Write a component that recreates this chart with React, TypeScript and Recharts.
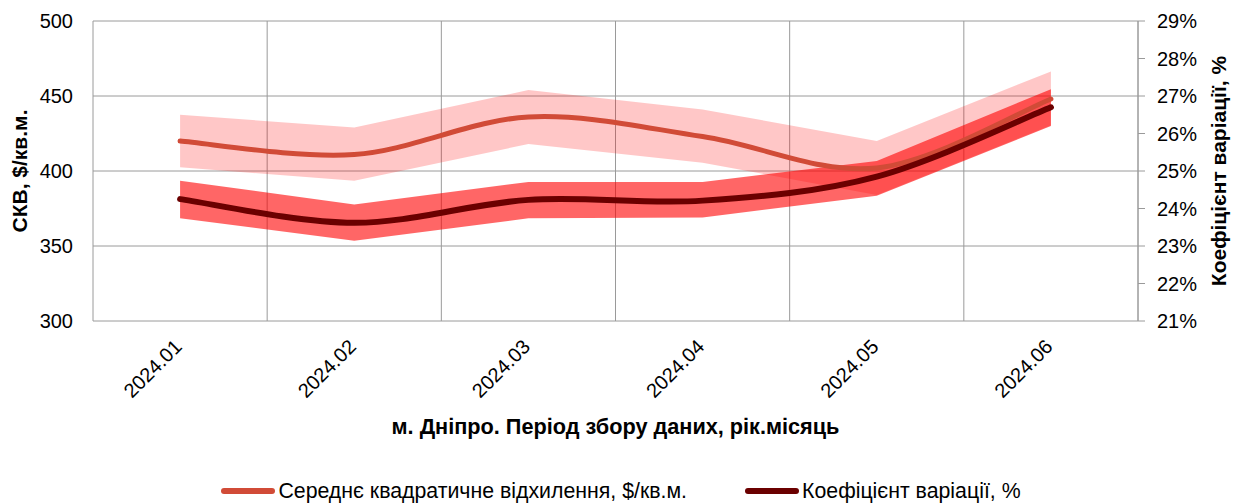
import React from 'react';
import {
  ComposedChart, Line, Area, XAxis, YAxis, CartesianGrid, Legend, Label,
} from 'recharts';

const categories = ['2024.01', '2024.02', '2024.03', '2024.04', '2024.05', '2024.06'];
const skv = [420, 411, 436, 423, 402, 448];
const skvLow = [402.5, 393.5, 418, 405.5, 384, 430.5];
const skvHigh = [437.5, 429, 454, 441, 420, 466.4];
const cv = [24.25, 23.62, 24.23, 24.21, 24.85, 26.7];
const cvLow = [23.74, 23.14, 23.74, 23.76, 24.34, 26.2];
const cvHigh = [24.74, 24.11, 24.71, 24.71, 25.27, 27.18];
const leftTicks = [300, 350, 400, 450, 500];
const rightTicks = [21, 22, 23, 24, 25, 26, 27, 28, 29];

const SKV_NAME = 'Середнє квадратичне відхилення, $/кв.м.';
const CV_NAME = 'Коефіцієнт варіації, %';
const X_TITLE = 'м. Дніпро. Період збору даних, рік.місяць';
const LEFT_TITLE = 'СКВ, $/кв.м.';
const RIGHT_TITLE = 'Коефіцієнт варіації, %';

const FONT = '"Liberation Sans", Arial, sans-serif';
const GRID = '#9a9a9a';
const SKV_COLOR = '#d14b37';
const CV_COLOR = '#6b0000';

const data = categories.map((label, i) => ({
  label,
  skv: skv[i],
  skvBand: [skvLow[i], skvHigh[i]],
  cv: cv[i],
  cvBand: [cvLow[i], cvHigh[i]],
}));

// Excel-like smoothed line (Catmull-Rom through points)
const excelSmooth: any = (context: any) => {
  let pts: number[][] = [];
  return {
    areaStart() {},
    areaEnd() {},
    lineStart() { pts = []; },
    point(x: number, y: number) { pts.push([+x, +y]); },
    lineEnd() {
      const n = pts.length;
      if (!n) return;
      context.moveTo(pts[0][0], pts[0][1]);
      for (let i = 0; i < n - 1; i++) {
        const p0 = pts[i - 1] || pts[i];
        const p1 = pts[i];
        const p2 = pts[i + 1];
        const p3 = pts[i + 2] || pts[i + 1];
        context.bezierCurveTo(
          p1[0] + (p2[0] - p0[0]) / 6, p1[1] + (p2[1] - p0[1]) / 6,
          p2[0] - (p3[0] - p1[0]) / 6, p2[1] - (p3[1] - p1[1]) / 6,
          p2[0], p2[1],
        );
      }
    },
  };
};

// vertical grid lines on the category (band) boundaries
const categoryBoundaries = (args: any) => {
  const { xAxis, offset } = args;
  try {
    const s = xAxis && xAxis.scale;
    if (typeof s === 'function' && typeof s.bandwidth === 'function') {
      const bw = s.bandwidth();
      const xs = categories.map((c) => s(c) as number);
      if (xs.every((v) => typeof v === 'number' && !isNaN(v))) {
        return [...xs, xs[xs.length - 1] + bw];
      }
    }
  } catch (e) {
    // fall through
  }
  const w = offset.width / categories.length;
  return [...categories.map((_, i) => offset.left + i * w), offset.left + offset.width];
};

const XTick = (props: any) => {
  const { x, y, payload } = props;
  return (
    <text
      transform={`translate(${x + 3},${y + 27}) rotate(-45)`}
      textAnchor="end"
      fontFamily={FONT}
      fontSize={20}
      fill="#000"
    >
      {payload.value}
    </text>
  );
};

const LegendContent = () => {
  const items = [
    { name: SKV_NAME, color: SKV_COLOR },
    { name: CV_NAME, color: CV_COLOR },
  ];
  return (
    <div style={{ display: 'flex', justifyContent: 'center', alignItems: 'center', height: 26, fontFamily: FONT, fontSize: 21.3, color: '#000' }}>
      {items.map((it, i) => (
        <div key={i} style={{ display: 'flex', alignItems: 'center', marginLeft: i ? 57 : 0 }}>
          <svg width={56} height={26} style={{ display: 'block' }}>
            <line x1={4} y1={13} x2={52} y2={13} stroke={it.color} strokeWidth={6} strokeLinecap="round" />
          </svg>
          <span style={{ marginLeft: 2, whiteSpace: 'nowrap' }}>{it.name}</span>
        </div>
      ))}
    </div>
  );
};

export default function App() {
  return (
    <div style={{ position: 'absolute', left: 0, top: 0, width: 1241, height: 504, background: '#fff' }}>
      <ComposedChart
        width={1241}
        height={504}
        data={data}
        margin={{ top: 21, right: 0, bottom: 0, left: 0 }}
        style={{ fontFamily: FONT }}
      >
        <XAxis
          xAxisId="main"
          dataKey="label"
          scale="band"
          interval={0}
          height={157}
          tickLine={false}
          axisLine={false}
          tickSize={0}
          tickMargin={0}
          tick={<XTick />}
        >
          <Label
            value={X_TITLE}
            position="insideBottom"
            offset={44}
            style={{ fontFamily: FONT, fontWeight: 'bold', fontSize: 21.7, fill: '#000' }}
          />
        </XAxis>
        <CartesianGrid
          xAxisId="main"
          yAxisId="left"
          stroke={GRID}
          strokeWidth={1}
          verticalCoordinatesGenerator={categoryBoundaries}
        />
        <YAxis
          yAxisId="left"
          domain={[300, 500]}
          ticks={leftTicks}
          width={93}
          axisLine={false}
          tickLine={false}
          tickSize={0}
          tickMargin={20}
          tick={{ fill: '#000', fontSize: 20, fontFamily: FONT }}
        >
          <Label
            value={LEFT_TITLE}
            angle={-90}
            position="insideLeft"
            offset={20}
            style={{ textAnchor: 'middle', fontFamily: FONT, fontWeight: 'bold', fontSize: 21, fill: '#000' }}
          />
        </YAxis>
        <YAxis
          yAxisId="right"
          orientation="right"
          domain={[21, 29]}
          ticks={rightTicks}
          width={103}
          axisLine={{ stroke: GRID }}
          tickLine={{ stroke: GRID }}
          tickSize={7}
          tickMargin={12}
          tickFormatter={(v: number) => `${v}%`}
          tick={{ fill: '#000', fontSize: 20, fontFamily: FONT }}
        >
          <Label
            value={RIGHT_TITLE}
            angle={-90}
            position="insideRight"
            offset={22}
            style={{ textAnchor: 'middle', fontFamily: FONT, fontWeight: 'bold', fontSize: 21, fill: '#000' }}
          />
        </YAxis>
        <Area
          xAxisId="main"
          yAxisId="left"
          type="linear"
          dataKey="skvBand"
          fill="#ff0000"
          fillOpacity={0.22}
          stroke="none"
          isAnimationActive={false}
          legendType="none"
          activeDot={false}
        />
        <Area
          xAxisId="main"
          yAxisId="right"
          type="linear"
          dataKey="cvBand"
          fill="#ff0000"
          fillOpacity={0.6}
          stroke="none"
          isAnimationActive={false}
          legendType="none"
          activeDot={false}
        />
        <Line
          xAxisId="main"
          yAxisId="left"
          type={excelSmooth}
          dataKey="skv"
          name={SKV_NAME}
          stroke={SKV_COLOR}
          strokeWidth={5}
          strokeLinecap="round"
          dot={false}
          isAnimationActive={false}
        />
        <Line
          xAxisId="main"
          yAxisId="right"
          type={excelSmooth}
          dataKey="cv"
          name={CV_NAME}
          stroke={CV_COLOR}
          strokeWidth={6}
          strokeLinecap="round"
          dot={false}
          isAnimationActive={false}
        />
        <Legend verticalAlign="bottom" height={26} content={<LegendContent />} />
      </ComposedChart>
    </div>
  );
}
